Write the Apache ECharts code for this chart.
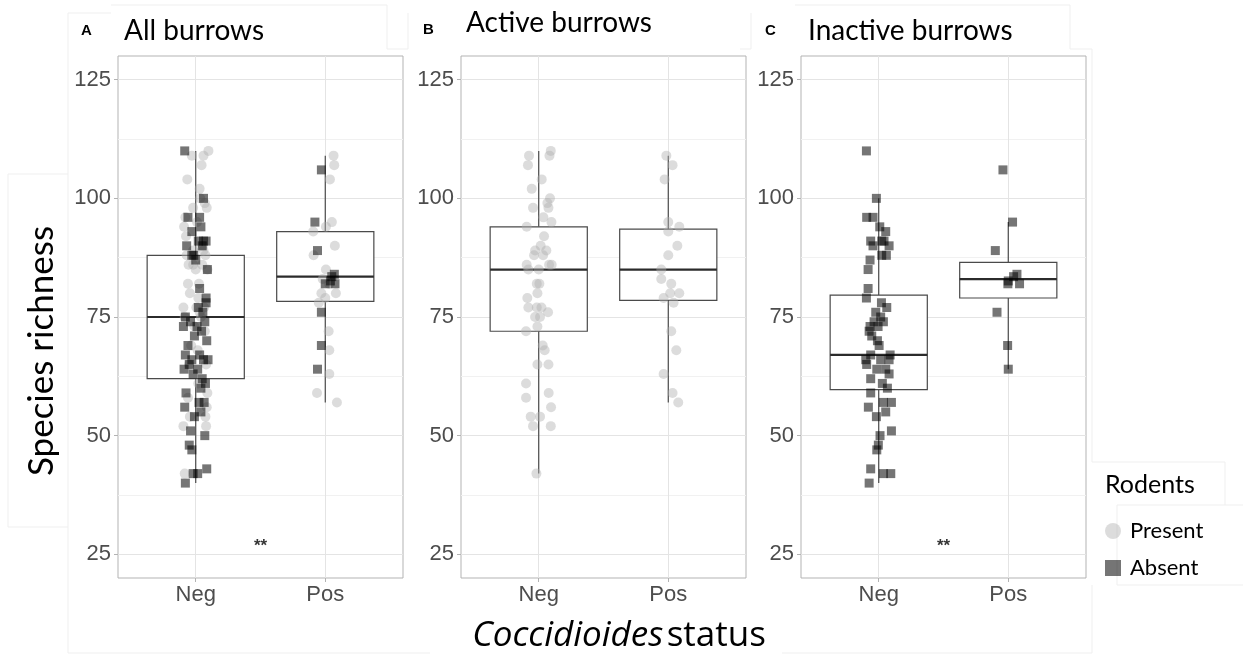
<!DOCTYPE html>
<html>
<head>
<meta charset="utf-8">
<title>Species richness by Coccidioides status</title>
<script src="https://cdn.jsdelivr.net/npm/echarts@6.0.0/dist/echarts.min.js"></script>
<style>
  html, body { margin: 0; padding: 0; background: #fff; }
  #chart { width: 1243px; height: 661px; }
</style>
</head>
<body>
<div id="chart"></div>
<script>
const xCategories = ['Neg', 'Pos'];
const yTicks = [25, 50, 75, 100, 125];
const yMinor = [37.5, 62.5, 87.5, 112.5];

// burrows with rodents present (active) - richness values
const presentNeg = [109, 110, 109, 107, 104, 102, 100, 99, 98, 98, 96, 95, 94, 92, 90, 89, 89, 88, 88, 86,
  85, 85, 86, 86, 82, 82, 80, 79, 77, 77, 77, 75, 75, 76, 73, 72, 69, 68, 65, 65,
  61, 58, 59, 56, 54, 54, 52, 52, 42];
const presentPos = [109, 107, 104, 95, 94, 93, 90, 88, 85, 83, 82, 80, 80, 79, 78, 72, 68, 63, 59, 57];

// burrows with rodents absent (inactive)
const absentNeg = [110, 100, 96, 96, 94, 93, 91, 91, 91, 90, 90, 88, 88, 87, 85, 81, 79, 78, 77, 76,
  75, 74, 74, 73, 73, 72, 71, 70, 69, 67, 67, 66, 66, 66, 65, 64, 64, 62, 63, 61,
  60, 59, 57, 57, 56, 55, 54, 50, 51, 48, 47, 43, 42, 42, 40];
const absentPos = [106, 95, 89, 84, 83.5, 82.6, 82, 82, 76, 69, 64];

// horizontal jitter of each point, as seen in each panel (category units)
const jitB_presentNeg = [-0.075, 0.093, 0.083, -0.083, 0.023, -0.054, 0.087, 0.067, 0.075, -0.044,
  0.036, 0.098, -0.093, 0.041, 0.015, -0.028, 0.059, -0.036, 0.034, -0.093,
  -0.080, 0.000, 0.080, 0.100, -0.015, 0.005, -0.010, -0.088, -0.080, -0.015,
  0.021, -0.028, 0.010, 0.072, -0.010, -0.098, 0.031, 0.046, -0.010, 0.075,
  -0.098, -0.098, 0.077, 0.095, -0.062, 0.010, -0.044, 0.093, -0.018];
const jitB_presentPos = [-0.015, 0.033, -0.028, 0.000, 0.085, 0.000, 0.070, 0.000, -0.054, -0.054,
  0.023, 0.015, 0.085, -0.036, 0.041, 0.023, 0.062, -0.036, 0.033, 0.077];
const jitC_absentNeg = [-0.095, -0.018, -0.093, -0.044, 0.008, 0.054, -0.062, 0.023, 0.041, -0.044,
  0.080, 0.023, 0.059, -0.067, -0.082, -0.082, -0.095, 0.021, 0.062, -0.023,
  0.015, 0.036, -0.036, -0.067, -0.005, -0.074, -0.054, -0.010, 0.003, 0.088,
  -0.062, -0.100, 0.015, 0.080, -0.093, -0.015, 0.054, -0.062, 0.080, 0.028,
  0.067, -0.062, 0.036, 0.098, -0.080, 0.054, -0.018, 0.010, 0.098, -0.003,
  -0.015, -0.062, 0.036, 0.093, -0.074];
const jitC_absentPos = [-0.041, 0.033, -0.100, 0.067, 0.041, 0.000, 0.087, -0.003, -0.087, -0.005, 0.000];
const jitA_presentNeg = [-0.030, 0.098, 0.060, 0.045, -0.065, 0.030, 0.035, 0.070, 0.085, -0.020,
  -0.080, 0.010, -0.090, -0.075, 0.055, 0.060, -0.020, 0.075, -0.070, -0.055,
  0.000, 0.090, -0.020, 0.050, -0.060, 0.025, -0.045, 0.020, -0.095, 0.005,
  0.065, -0.085, 0.040, 0.030, -0.010, 0.070, -0.035, 0.015, 0.080, -0.050,
  0.020, -0.060, 0.090, 0.085, -0.045, 0.075, -0.095, 0.080, -0.085];
const jitA_presentPos = [0.064, 0.069, 0.036, 0.051, 0.005, -0.093, 0.074, -0.090, 0.005, -0.020,
  0.030, 0.082, -0.030, 0.000, -0.050, 0.026, 0.031, 0.031, -0.064, 0.090];
const jitA_absentNeg = [-0.085, 0.060, -0.060, 0.030, 0.040, -0.030, 0.060, 0.080, 0.020, -0.070,
  0.050, -0.030, -0.015, 0.000, 0.090, 0.030, 0.080, 0.080, 0.020, 0.055,
  -0.080, 0.070, -0.040, 0.010, -0.095, 0.045, -0.010, 0.085, -0.060, 0.030,
  -0.080, 0.060, -0.030, 0.095, -0.050, 0.015, -0.090, 0.050, -0.020, 0.075,
  0.040, -0.075, 0.065, 0.025, -0.085, 0.040, -0.010, 0.070, -0.040, -0.050,
  -0.030, 0.085, -0.020, 0.015, -0.080];
const jitA_absentPos = [-0.030, -0.080, -0.060, 0.070, 0.050, 0.040, 0.075, 0.000, -0.030, -0.030, -0.060];

// box stats: [lower whisker, Q1, median, Q3, upper whisker]
const boxA = [[40, 62, 75, 88, 110], [57, 78.3, 83.5, 93, 109]];
const boxB = [[42, 72, 85, 94, 110], [57, 78.5, 85, 93.5, 109]];
const boxC = [[40, 59.7, 67, 79.6, 100], [64, 79, 83, 86.5, 95]];

// significance marks: [x, y]
const sigA = [[1.5, 26.6]];
const sigC = [[1.5, 26.6]];

const panelTitles = ['All burrows', 'Active burrows', 'Inactive burrows'];
const panelLetters = ['A', 'B', 'C'];

function points(neg, jitNeg, pos, jitPos) {
  const out = [];
  neg.forEach((v, i) => out.push([1 + jitNeg[i], v]));
  pos.forEach((v, i) => out.push([2 + jitPos[i], v]));
  return out;
}

const panels = [
  {
    box: boxA, sig: sigA,
    present: points(presentNeg, jitA_presentNeg, presentPos, jitA_presentPos),
    absent: points(absentNeg, jitA_absentNeg, absentPos, jitA_absentPos)
  },
  {
    box: boxB, sig: null,
    present: points(presentNeg, jitB_presentNeg, presentPos, jitB_presentPos),
    absent: null
  },
  {
    box: boxC, sig: sigC,
    present: null,
    absent: points(absentNeg, jitC_absentNeg, absentPos, jitC_absentPos)
  }
];

const gridLeft = [118, 461, 801];
const tickFont = 'Liberation Sans, Arial, sans-serif';
const textFont = 'Lato, Open Sans, sans-serif';

function renderBox(params, api) {
  const x = api.value(0);
  const low = api.coord([x, api.value(1)]);
  const q1 = api.coord([x, api.value(2)]);
  const med = api.coord([x, api.value(3)]);
  const q3 = api.coord([x, api.value(4)]);
  const high = api.coord([x, api.value(5)]);
  const w = api.size([0.75, 0])[0];
  const line = { stroke: '#4a4a4a', lineWidth: 1.2 };
  return {
    type: 'group',
    children: [
      { type: 'line', shape: { x1: low[0], y1: low[1], x2: q1[0], y2: q1[1] }, style: line },
      { type: 'line', shape: { x1: q3[0], y1: q3[1], x2: high[0], y2: high[1] }, style: line },
      {
        type: 'rect',
        shape: { x: q3[0] - w / 2, y: q3[1], width: w, height: q1[1] - q3[1] },
        style: { fill: '#fff', stroke: '#4a4a4a', lineWidth: 1.2 }
      },
      {
        type: 'line',
        shape: { x1: med[0] - w / 2, y1: med[1], x2: med[0] + w / 2, y2: med[1] },
        style: { stroke: '#2b2b2b', lineWidth: 2.2 }
      }
    ]
  };
}

const grids = [];
const xAxes = [];
const yAxes = [];
const series = [];

panels.forEach((p, i) => {
  grids.push({
    left: gridLeft[i], top: 56, width: 285, height: 522,
    show: true, borderColor: '#b3b3b3', borderWidth: 1,
    outerBoundsMode: 'none'
  });
  xAxes.push({
    type: 'value', gridIndex: i, min: 0.4, max: 2.6,
    axisLine: { show: false },
    splitLine: { show: false },
    axisTick: { customValues: [1, 2], length: 4, lineStyle: { color: '#b3b3b3' } },
    axisLabel: {
      customValues: [1, 2],
      formatter: v => xCategories[Math.round(v) - 1],
      fontSize: 22, color: '#4d4d4d', fontFamily: tickFont, margin: 6
    }
  });
  yAxes.push({
    type: 'value', gridIndex: i, min: 20, max: 130,
    axisLine: { show: false },
    splitLine: { show: false },
    axisTick: { customValues: yTicks, length: 4, lineStyle: { color: '#b3b3b3' } },
    axisLabel: {
      customValues: yTicks,
      fontSize: 22, color: '#4d4d4d', fontFamily: tickFont, margin: 7
    }
  });

  // panel grid lines, kept below the boxes
  series.push({
    type: 'scatter', xAxisIndex: i, yAxisIndex: i, data: [], silent: true, z: 1,
    markLine: {
      z: 1,
      silent: true, symbol: 'none', animation: false,
      label: { show: false },
      lineStyle: { type: 'solid', width: 1, color: '#e4e4e4' },
      data: [
        ...yTicks.map(v => ({ yAxis: v })),
        ...yMinor.map(v => ({ yAxis: v, lineStyle: { color: '#f1f1f1', width: 1, type: 'solid' } })),
        ...[1, 2].map(v => ({ xAxis: v }))
      ]
    }
  });

  series.push({
    type: 'custom', name: 'box', xAxisIndex: i, yAxisIndex: i, z: 3, silent: true,
    renderItem: renderBox,
    data: p.box.map((b, k) => [k + 1].concat(b))
  });

  if (p.present) {
    series.push({
      type: 'scatter', name: 'Present', xAxisIndex: i, yAxisIndex: i, z: 4,
      symbol: 'circle', symbolSize: 10,
      itemStyle: { color: 'rgba(175,175,175,0.55)' },
      data: p.present
    });
  }
  if (p.absent) {
    series.push({
      type: 'scatter', name: 'Absent', xAxisIndex: i, yAxisIndex: i, z: 5,
      symbol: 'rect', symbolSize: 9,
      itemStyle: { color: 'rgba(0,0,0,0.68)' },
      data: p.absent
    });
  }
  if (p.sig) {
    series.push({
      type: 'scatter', name: 'sig', xAxisIndex: i, yAxisIndex: i, z: 6,
      symbolSize: 1, itemStyle: { color: 'transparent' },
      label: {
        show: true, position: 'inside', formatter: '**',
        fontSize: 17, fontWeight: 'bold', color: '#000', fontFamily: tickFont
      },
      data: p.sig
    });
  }
});

const graphics = [];

// faint outlines left over from the pasted figure pieces
const frameLines = [
  [[8, 174], [68, 174]], [[8, 174], [8, 527]], [[8, 527], [68, 527]],
  [[68, 13], [68, 653]], [[68, 13], [111, 13]], [[111, 5], [387, 5]],
  [[387, 5], [387, 49]], [[387, 49], [408, 49]], [[408, 13], [408, 49]],
  [[68, 653], [430, 653]],
  [[751, 13], [751, 49]], [[740, 49], [751, 49]], [[795, 5], [1070, 5]],
  [[1070, 5], [1070, 49]], [[1070, 49], [1092, 49]], [[1092, 49], [1092, 462]],
  [[1092, 462], [1225, 462]], [[1225, 462], [1225, 505]], [[1117, 505], [1243, 505]],
  [[1117, 505], [1117, 585]], [[1117, 585], [1243, 585]], [[1092, 585], [1092, 653]],
  [[782, 653], [1092, 653]]
];
frameLines.forEach(l => {
  graphics.push({
    type: 'line', silent: true, z: -1,
    shape: { x1: l[0][0], y1: l[0][1], x2: l[1][0], y2: l[1][1] },
    style: { stroke: '#efefef', lineWidth: 1 }
  });
});

const letterX = [87, 429, 771];
const letterY = [31, 30, 31];
const titleX = [124, 466, 808];
const titleY = [31, 23, 31];
panelTitles.forEach((t, i) => {
  graphics.push({
    type: 'text', left: letterX[i] - 6, top: letterY[i] - 8,
    style: { text: panelLetters[i], font: 'bold 15px ' + tickFont, fill: '#000' }
  });
  graphics.push({
    type: 'text', x: titleX[i], y: titleY[i],
    style: { text: t, font: '28px ' + textFont, fill: '#000', textVerticalAlign: 'middle' }
  });
});
graphics.push({
  type: 'text', x: 42, y: 351, rotation: Math.PI / 2,
  style: {
    text: 'Species richness', font: '35px ' + textFont, fill: '#000',
    textAlign: 'center', textVerticalAlign: 'middle'
  }
});
graphics.push({
  type: 'text', x: 619, y: 636,
  style: {
    text: '{i|Coccidioides} {n|status}',
    textAlign: 'center', textVerticalAlign: 'middle',
    rich: {
      i: { font: 'italic 35px Open Sans, sans-serif', fill: '#000' },
      n: { font: '35px Open Sans, sans-serif', fill: '#000' }
    }
  }
});
graphics.push({
  type: 'text', x: 1105, y: 485,
  style: { text: 'Rodents', font: '25px ' + textFont, fill: '#000', textVerticalAlign: 'middle' }
});

const chart = echarts.init(document.getElementById('chart'), null, { renderer: 'canvas' });
chart.setOption({
  backgroundColor: '#fff',
  animation: false,
  grid: grids,
  xAxis: xAxes,
  yAxis: yAxes,
  legend: {
    data: [{ name: 'Present', icon: 'circle' }, { name: 'Absent', icon: 'rect' }],
    orient: 'vertical', left: 1100, top: 515,
    itemWidth: 16, itemHeight: 16, itemGap: 15,
    selectedMode: false,
    textStyle: { fontSize: 22, fontFamily: textFont, color: '#000', lineHeight: 22, padding: [0, 0, 0, 4] }
  },
  graphic: graphics,
  series: series
});
</script>
</body>
</html>
